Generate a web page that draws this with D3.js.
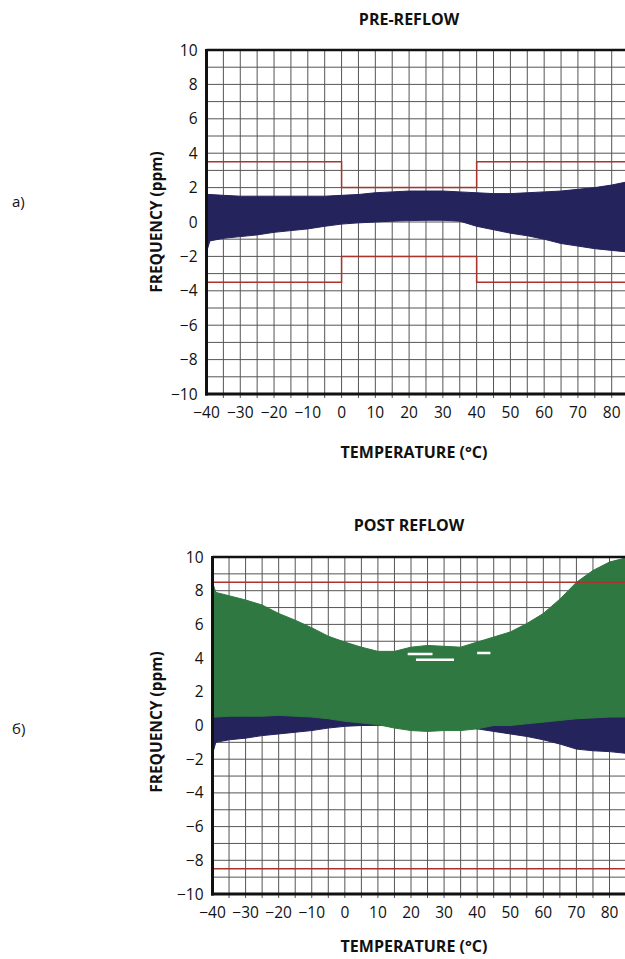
<!DOCTYPE html>
<meta charset="utf-8">
<script src="https://d3js.org/d3.v7.min.js"></script>
<style>
    body { margin: 0; background: #fff; }
    text { font-family: "Open Sans", "Noto Sans", sans-serif; fill: #111; }
</style>
<div id="chart"></div>
<script>
    var width = 625
    var height = 959

    // temperature samples (°C)
    var tempA = [-40, -39, -35, -30, -25, -20, -15, -10, -5, 0, 5, 10, 15, 20, 25, 30, 35, 40, 45, 50, 55, 60, 65, 70, 75, 80, 85]
    // pre-reflow band (ppm)
    var upperA = [1.6, 1.6, 1.55, 1.5, 1.5, 1.5, 1.5, 1.5, 1.5, 1.55, 1.6, 1.7, 1.75, 1.8, 1.8, 1.8, 1.75, 1.7, 1.65, 1.65, 1.7, 1.75, 1.8, 1.9, 2.0, 2.15, 2.35]
    var lowerA = [-1.75, -1.1, -0.95, -0.85, -0.75, -0.6, -0.5, -0.4, -0.25, -0.12, -0.05, 0.0, 0.05, 0.08, 0.1, 0.1, 0.05, -0.25, -0.45, -0.65, -0.8, -1.0, -1.25, -1.4, -1.55, -1.65, -1.75]

    // post reflow: navy (before) and green (after) bands
    var tempB = tempA
    var navyUpperB = [1.5, 1.5, 1.5, 1.5, 1.5, 1.5, 1.5, 1.5, 1.5, 1.5, 1.5, 1.6, 1.7, 1.7, 1.7, 1.7, 1.7, 1.6, 1.6, 1.6, 1.6, 1.7, 1.8, 1.9, 2.0, 2.1, 2.2]
    var navyLowerB = [-1.7, -1.0, -0.85, -0.75, -0.6, -0.5, -0.4, -0.3, -0.15, -0.05, 0.0, 0.03, 0.0, 0.0, 0.0, 0.0, 0.0, -0.2, -0.35, -0.5, -0.65, -0.85, -1.1, -1.4, -1.5, -1.55, -1.65]
    var greenUpperB = [8.5, 7.9, 7.7, 7.45, 7.15, 6.65, 6.25, 5.8, 5.3, 4.95, 4.65, 4.4, 4.4, 4.65, 4.75, 4.7, 4.65, 4.95, 5.25, 5.55, 6.05, 6.65, 7.5, 8.5, 9.2, 9.7, 9.95]
    var greenLowerB = [0.5, 0.5, 0.55, 0.55, 0.55, 0.6, 0.55, 0.5, 0.4, 0.25, 0.15, 0.05, -0.15, -0.3, -0.35, -0.3, -0.3, -0.2, 0.0, 0.0, 0.1, 0.2, 0.3, 0.4, 0.45, 0.5, 0.5]

    // white gaps inside the green cloud: [t0, t1, ppm]
    var gapsB = [[19, 26.5, 4.25], [21.5, 33, 3.9], [40, 44, 4.3]]

    // tolerance limits
    var limitTempA = [-40, 0, 0, 40, 40, 90]
    var limitUpA = [3.5, 3.5, 2, 2, 3.5, 3.5]
    var limitLoA = [-3.5, -3.5, -2, -2, -3.5, -3.5]
    var limitTempB = [-40, 90]
    var limitUpB = [8.5, 8.5]
    var limitLoB = [-8.5, -8.5]

    var xTicks = [-40, -30, -20, -10, 0, 10, 20, 30, 40, 50, 60, 70, 80]
    var yTicks = [-10, -8, -6, -4, -2, 0, 2, 4, 6, 8, 10]

    var navy = "#25235c"
    var green = "#2f7841"
    var red = "#a8342c"

    var svg = d3.select("#chart")
        .append("svg")
        .attr("width", width)
        .attr("height", height)

    function fmt(v) {
        return v < 0 ? "\u2212" + Math.abs(v) : "" + v
    }

    function panel(opt) {
        var x = d3.scaleLinear().domain([-40, 80]).range([opt.left, opt.x80])
        var y = d3.scaleLinear().domain([-10, 10]).range([opt.bottom, opt.top])
        var right = x(90)
        var g = svg.append("g")

        g.append("clipPath").attr("id", opt.id)
            .append("rect")
            .attr("x", opt.left).attr("y", opt.top)
            .attr("width", right - opt.left).attr("height", opt.bottom - opt.top)

        // grid: 5 °C and 1 ppm
        g.append("g").selectAll("line")
            .data(d3.range(-35, 91, 5))
            .join("line")
            .attr("x1", function (d) { return x(d) }).attr("x2", function (d) { return x(d) })
            .attr("y1", opt.top).attr("y2", opt.bottom + 4)
            .attr("stroke", "#555").attr("stroke-width", 1)
        g.append("g").selectAll("line")
            .data(d3.range(-9, 10, 1))
            .join("line")
            .attr("x1", opt.left).attr("x2", right)
            .attr("y1", function (d) { return y(d) }).attr("y2", function (d) { return y(d) })
            .attr("stroke", "#555").attr("stroke-width", 1)

        var plot = g.append("g").attr("clip-path", "url(#" + opt.id + ")")

        opt.bands.forEach(function (b) {
            var area = d3.area()
                .x(function (d, i) { return x(b.t[i]) })
                .y0(function (d, i) { return y(b.lo[i]) })
                .y1(function (d, i) { return y(b.hi[i]) })
            plot.append("path")
                .datum(b.t)
                .attr("d", area)
                .attr("fill", b.color)
                .attr("stroke", b.color)
                .attr("stroke-width", 1)
        })

        plot.append("g").selectAll("line")
            .data(opt.gaps || [])
            .join("line")
            .attr("x1", function (d) { return x(d[0]) }).attr("x2", function (d) { return x(d[1]) })
            .attr("y1", function (d) { return y(d[2]) }).attr("y2", function (d) { return y(d[2]) })
            .attr("stroke", "#fff").attr("stroke-width", 2.5)

        var line = d3.line()
        opt.limits.forEach(function (l) {
            plot.append("path")
                .datum(l.t.map(function (t, i) { return [x(t), y(l.v[i])] }))
                .attr("d", line)
                .attr("fill", "none")
                .attr("stroke", red)
                .attr("stroke-width", 1.5)
        })

        // frame
        g.append("line")
            .attr("x1", opt.left).attr("x2", right)
            .attr("y1", opt.top).attr("y2", opt.top)
            .attr("stroke", "#111").attr("stroke-width", 2.5)
        g.append("line")
            .attr("x1", opt.left).attr("x2", opt.left)
            .attr("y1", opt.top - 1).attr("y2", opt.bottom + 1.5)
            .attr("stroke", "#111").attr("stroke-width", 3)
        g.append("line")
            .attr("x1", opt.left - 1.5).attr("x2", right)
            .attr("y1", opt.bottom).attr("y2", opt.bottom)
            .attr("stroke", "#111").attr("stroke-width", 3)

        // tick labels
        g.append("g").selectAll("text")
            .data(yTicks)
            .join("text")
            .attr("x", opt.left - 9)
            .attr("y", function (d) { return y(d) + 5.5 })
            .attr("text-anchor", "end")
            .attr("font-size", 15.5)
            .text(fmt)
        g.append("g").selectAll("text")
            .data(xTicks)
            .join("text")
            .attr("x", function (d) { return x(d) })
            .attr("y", opt.bottom + 24)
            .attr("text-anchor", "middle")
            .attr("font-size", 15.5)
            .text(fmt)

        // titles
        g.append("text")
            .attr("x", 409).attr("y", opt.titleY)
            .attr("text-anchor", "middle")
            .attr("font-size", 16).attr("font-weight", "bold")
            .text(opt.title)
        g.append("text")
            .attr("x", 414).attr("y", opt.xLabelY)
            .attr("text-anchor", "middle")
            .attr("font-size", 16).attr("font-weight", "bold")
            .text("TEMPERATURE (\u00b0C)")
        g.append("text")
            .attr("transform", "translate(162," + opt.yLabelY + ") rotate(-90)")
            .attr("text-anchor", "middle")
            .attr("font-size", 15.5).attr("font-weight", "bold")
            .text("FREQUENCY (ppm)")
        g.append("text")
            .attr("x", 12).attr("y", opt.tagY)
            .attr("font-size", 15)
            .text(opt.tag)
    }

    panel({
        id: "clipA", left: 206.5, x80: 611.7, top: 50, bottom: 394,
        title: "PRE-REFLOW", titleY: 25, xLabelY: 458, yLabelY: 222, tag: "a)", tagY: 207,
        bands: [{ t: tempA, hi: upperA, lo: lowerA, color: navy }],
        limits: [{ t: limitTempA, v: limitUpA }, { t: limitTempA, v: limitLoA }]
    })

    panel({
        id: "clipB", left: 212.5, x80: 609.5, top: 557, bottom: 894,
        title: "POST REFLOW", titleY: 531, xLabelY: 952, yLabelY: 722, tag: "\u0431)", tagY: 734,
        bands: [
            { t: tempB, hi: navyUpperB, lo: navyLowerB, color: navy },
            { t: tempB, hi: greenUpperB, lo: greenLowerB, color: green }
        ],
        gaps: gapsB,
        limits: [{ t: limitTempB, v: limitUpB }, { t: limitTempB, v: limitLoB }]
    })
</script>
